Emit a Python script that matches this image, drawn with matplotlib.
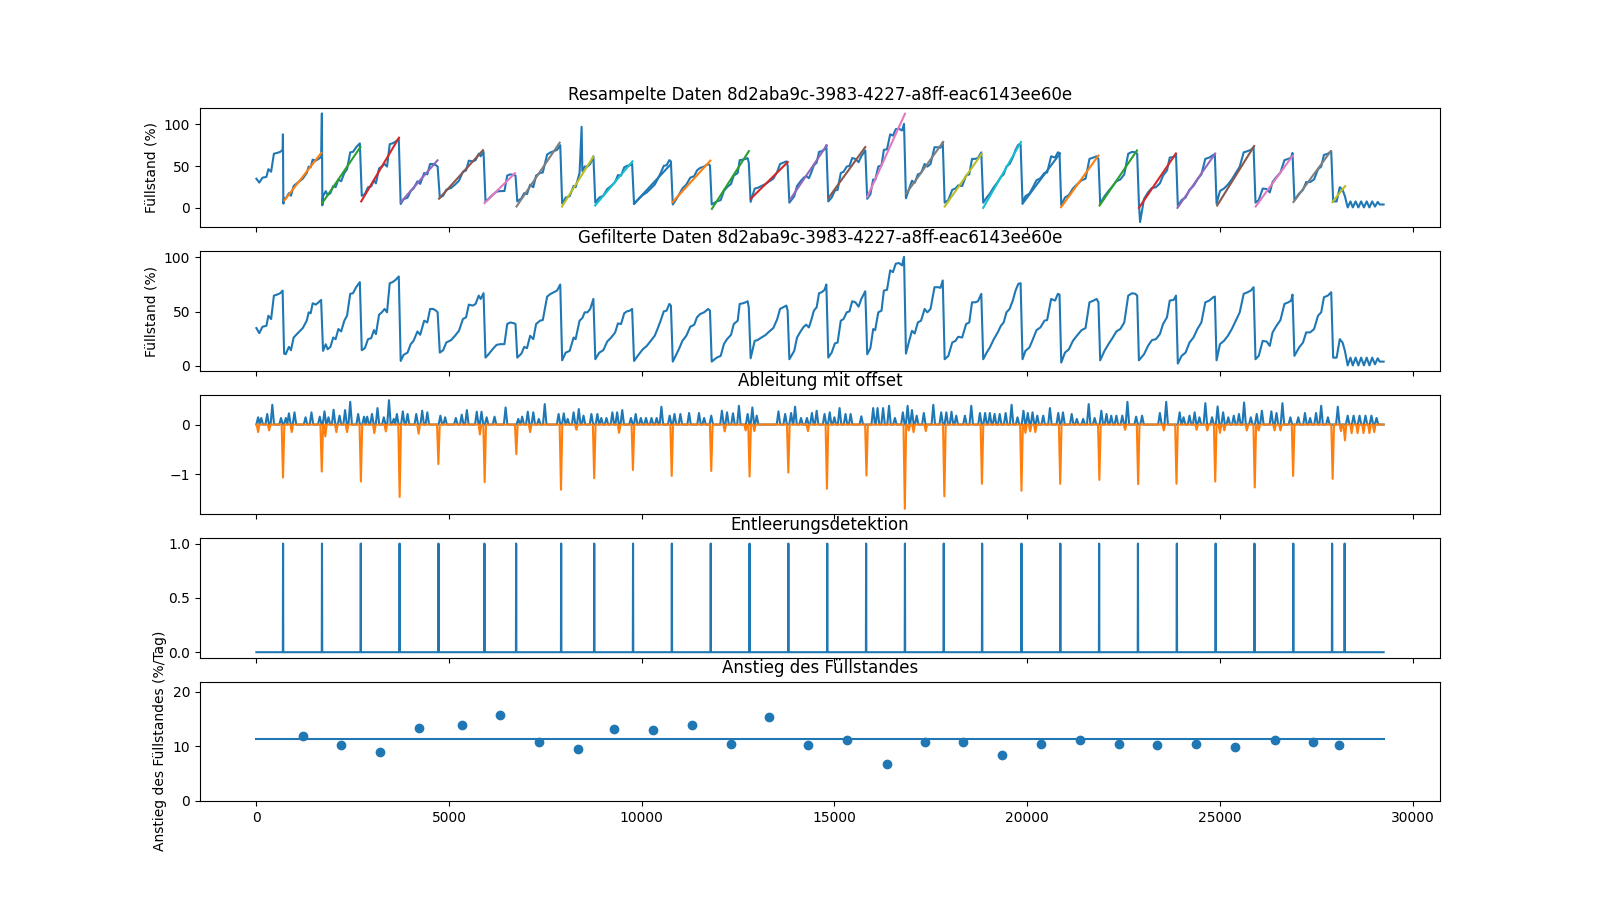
import numpy as np
import matplotlib
matplotlib.use("Agg")
import matplotlib.pyplot as plt

sensor_id = "8d2aba9c-3983-4227-a8ff-eac6143ee60e"
t_end = 29250

# filtered fill level (x in samples, y in %)
filt_t = [0, 76, 158, 260, 312, 383, 455, 537, 619, 681,
          720, 760, 845, 897, 968, 1050, 1204, 1307, 1358, 1409, 1461, 1543, 1614, 1680,
          1730, 1800, 1850, 1922, 1994, 2056, 2128, 2200, 2282, 2353, 2435, 2507, 2589, 2685,
          2735, 2815, 2897, 2979, 3051, 3102, 3184, 3256, 3328, 3390, 3461, 3533, 3615, 3695,
          3745, 3820, 3923, 4005, 4077, 4180, 4251, 4354, 4436, 4508, 4590, 4662, 4703,
          4760, 4846, 4928, 5052, 5154, 5257, 5360, 5441, 5513, 5616, 5688, 5770, 5821, 5895,
          5945, 6026, 6129, 6232, 6334, 6437, 6509, 6591, 6693, 6724,
          6770, 6878, 6950, 7022, 7104, 7186, 7258, 7360, 7432, 7545, 7637, 7719, 7801, 7885,
          7935, 8027, 8130, 8232, 8284, 8386, 8458, 8519, 8591, 8663, 8745,
          8795, 8899, 9002, 9104, 9207, 9310, 9382, 9463, 9545, 9617, 9689, 9750,
          9800, 9926, 10028, 10131, 10233, 10336, 10408, 10490, 10572, 10644, 10715, 10756,
          10805, 10900, 10982, 11054, 11156, 11259, 11362, 11433, 11515, 11618, 11721, 11770,
          11815, 11946, 12049, 12131, 12213, 12316, 12388, 12490, 12541, 12623, 12695, 12747, 12777,
          12825, 12931, 13003, 13105, 13208, 13310, 13413, 13516, 13588, 13670, 13752, 13785,
          13830, 13957, 14029, 14132, 14200, 14265, 14337, 14394, 14466, 14538, 14600, 14671, 14743, 14790,
          14840, 14928, 15010, 15082, 15164, 15236, 15318, 15390, 15461, 15544, 15626, 15697, 15800,
          15850, 15933, 16005, 16056, 16138, 16221, 16282, 16364, 16446, 16518, 16590, 16672, 16754, 16805,
          16855, 16928, 17011, 17082, 17165, 17247, 17339, 17411, 17493, 17596, 17698, 17750, 17810,
          17860, 17955, 18057, 18139, 18211, 18314, 18416, 18498, 18570, 18652, 18724, 18810,
          18860, 18950, 19032, 19135, 19237, 19319, 19391, 19463, 19545, 19627, 19699, 19771, 19830,
          19880, 19955, 20058, 20140, 20243, 20345, 20448, 20519, 20622, 20725, 20797, 20840,
          20885, 20981, 21084, 21186, 21289, 21412, 21515, 21617, 21720, 21802, 21850,
          21895, 22007, 22110, 22212, 22315, 22418, 22520, 22623, 22725, 22807, 22855,
          22900, 23033, 23136, 23238, 23341, 23444, 23526, 23628, 23700, 23803, 23862,
          23910, 24008, 24110, 24213, 24315, 24418, 24521, 24623, 24726, 24829, 24870,
          24915, 25003, 25106, 25209, 25311, 25414, 25516, 25619, 25721, 25804, 25875,
          25925, 26009, 26112, 26214, 26296, 26368, 26470, 26573, 26676, 26778, 26850, 26885,
          26935, 27056, 27158, 27240, 27343, 27445, 27548, 27630, 27701, 27804, 27890,
          27940, 28030, 28112, 28184, 28245, 28317, 28389, 28450, 28522, 28594, 28666, 28738,
          28810, 28881, 28953, 29025, 29097, 29148, 29250]
filt_level = [34.9, 30.2, 36.1, 37.0, 46.3, 43.2, 64.8, 65.7, 67.0, 69.4,
              11.4, 10.8, 17.6, 14.5, 26.2, 29.3, 34.9, 41.7, 49.4, 48.5, 57.7, 56.5, 58.6, 60.8,
              13.9, 20.0, 15.4, 17.6, 26.2, 24.7, 34.0, 31.8, 41.7, 46.3, 66.4, 67.0, 72.5, 77.2,
              14.5, 16.4, 24.7, 25.6, 33.0, 29.3, 47.2, 49.4, 52.5, 49.4, 76.2, 77.2, 79.3, 82.4,
              4.6, 10.2, 12.3, 20.1, 23.1, 31.8, 28.7, 41.7, 40.1, 52.5, 52.5, 50.9, 49.4,
              12.3, 14.5, 21.6, 23.8, 27.8, 32.4, 43.2, 44.8, 56.5, 55.6, 57.1, 64.8, 61.7, 67.0,
              7.7, 10.8, 15.4, 19.4, 20.1, 20.1, 38.6, 40.1, 39.2, 38.6,
              7.7, 11.4, 17.6, 16.4, 27.8, 24.7, 38.6, 41.7, 42.3, 63.9, 66.4, 67.9, 69.4, 75.0,
              5.2, 12.3, 13.9, 26.2, 24.7, 41.7, 44.1, 49.4, 49.4, 52.5, 61.7,
              6.2, 12.3, 14.5, 22.5, 26.2, 30.9, 39.2, 38.6, 48.5, 50.3, 50.9, 52.5,
              4.6, 10.8, 15.4, 18.5, 23.1, 27.8, 34.0, 41.7, 50.3, 50.9, 57.1, 55.6,
              4.0, 10.8, 17.0, 23.1, 27.8, 36.1, 38.0, 44.8, 47.8, 49.4, 52.5, 50.9,
              4.0, 7.7, 9.3, 20.1, 24.7, 28.7, 38.6, 41.7, 57.1, 57.7, 58.6, 59.6, 54.0,
              7.1, 23.1, 23.8, 26.2, 28.4, 31.8, 34.9, 43.2, 52.5, 54.0, 55.6, 50.9,
              6.2, 13.9, 26.2, 32.4, 36.0, 38.0, 35.5, 41.7, 50.9, 54.0, 67.0, 67.9, 70.1, 75.0,
              7.7, 12.3, 20.7, 21.6, 41.7, 43.2, 49.4, 50.3, 59.6, 58.6, 54.6, 61.7, 68.8,
              10.8, 16.4, 34.0, 33.0, 49.4, 50.9, 69.4, 70.1, 88.0, 86.4, 94.1, 94.8, 92.6, 100.5,
              11.4, 21.6, 32.4, 29.9, 40.1, 41.7, 52.5, 49.4, 52.5, 72.5, 72.5, 71.9, 78.7,
              6.2, 9.3, 21.6, 23.1, 26.9, 26.2, 38.6, 40.1, 58.6, 58.6, 59.6, 66.4,
              6.2, 12.3, 17.0, 24.7, 30.9, 37.0, 40.1, 49.4, 52.5, 60.2, 69.4, 75.6, 76.2,
              6.2, 13.9, 17.0, 23.8, 33.0, 35.5, 41.7, 42.3, 61.7, 60.2, 66.4, 65.7,
              3.1, 12.3, 15.4, 23.1, 27.8, 33.0, 34.9, 58.6, 60.2, 61.7, 58.6,
              5.2, 13.9, 20.1, 25.6, 31.8, 34.0, 40.1, 64.8, 67.0, 66.4, 64.8,
              5.2, 10.8, 18.5, 23.8, 24.7, 29.3, 38.6, 44.8, 60.2, 60.8, 64.8,
              2.2, 9.3, 12.3, 21.6, 26.2, 34.0, 40.1, 58.6, 60.2, 63.3, 63.9,
              5.2, 20.1, 23.1, 27.8, 34.0, 41.7, 49.4, 66.4, 67.9, 69.4, 72.5,
              6.2, 9.3, 23.1, 22.5, 18.5, 30.9, 37.0, 42.3, 57.1, 58.6, 60.2, 65.7,
              9.3, 17.0, 21.6, 30.9, 30.9, 34.0, 46.3, 49.4, 63.3, 64.8, 67.9,
              7.7, 7.7, 24.7, 21.6, 13.9, 0.5, 7.7, 0.5, 7.7, 0.5, 7.7, 0.5,
              7.7, 0.5, 7.7, 1.5, 7.1, 4.0, 4.0]

# extra outliers present only in the resampled raw data
raw_extra_t = [690, 700, 1700, 1712, 8440, 22930]
raw_extra_level = [88.0, 5.0, 113.0, 3.0, 97.0, -17.0]

# linear fits per filling cycle
fit_t0 = [725, 1710, 2720, 3750, 4740, 5920, 6750, 7930, 8790, 9800, 10800, 11820, 12830, 13850,
          14850, 15850, 16860, 17860, 18860, 19880, 20880, 21880, 22900, 23900, 24930, 25930, 26910, 27920]
fit_t1 = [1686, 2700, 3700, 4700, 5880, 6710, 7870, 8740, 9760, 10750, 11780, 12780, 13790, 14800,
          15800, 16830, 17820, 18820, 19840, 20850, 21850, 22850, 23860, 24880, 25890, 26880, 27880, 28250]
fit_y0 = [8.9, 5.7, 7.7, 6.9, 11.0, 5.7, 1.6, 1.6, 2.8, 5.0, 6.9, -1.2, 11.0, 10.0,
          12.2, 13.0, 17.0, 1.6, 0.0, 5.0, 0.8, 2.8, 0.0, 0.0, 2.8, 1.6, 6.9, 6.9]
fit_y1 = [65.9, 72.8, 84.0, 56.9, 69.0, 41.5, 78.0, 61.0, 55.7, 52.0, 56.5, 67.9, 54.9, 74.8,
          72.8, 112.6, 78.9, 64.6, 78.9, 65.0, 62.6, 68.7, 65.0, 65.0, 74.0, 61.8, 67.9, 26.0]

# derivative: positive bumps
deriv_pos_t = [45, 127, 281, 414, 640, 763, 845, 989, 1276, 1430, 1645, 1768, 1871, 2004, 2158, 2302,
               2435, 2641, 2794, 2876, 3000, 3143, 3307, 3441, 3564, 3646, 3800, 3923, 4149, 4303,
               4436, 4775, 4898, 5175, 5329, 5462, 5719, 5842, 5975, 6180, 6467, 6796, 6898, 7042,
               7186, 7329, 7483, 7842, 7976, 8078, 8232, 8366, 8489, 8694, 8848, 8950, 9084, 9238,
               9361, 9494, 9720, 9843, 9976, 10110, 10253, 10387, 10510, 10725, 10849, 11002, 11228,
               11485, 11618, 11803, 12080, 12213, 12367, 12521, 12747, 12870, 12983, 13547, 13721,
               13875, 13978, 14132, 14286, 14415, 14538, 14743, 14877, 14999, 15133, 15287, 15420,
               15697, 16005, 16118, 16262, 16416, 16569, 16775, 16898, 17011, 17134, 17319, 17565,
               17770, 17903, 18037, 18160, 18385, 18550, 18775, 18909, 19032, 19155, 19288, 19442,
               19596, 19750, 19904, 20017, 20140, 20263, 20417, 20591, 20807, 20930, 21156, 21289,
               21453, 21597, 21751, 21925, 22059, 22182, 22315, 22469, 22602, 22828, 22982, 23444,
               23608, 23957, 24059, 24213, 24346, 24470, 24624, 24798, 24942, 25085, 25219, 25362,
               25496, 25629, 25803, 25957, 26091, 26337, 26470, 26624, 26830, 27035, 27209, 27342,
               27496, 27629, 27804, 28061, 28317, 28471, 28625, 28779, 28933, 29066]
deriv_pos_h = [0.146, 0.132, 0.212, 0.397, 0.132, 0.132, 0.225, 0.245, 0.146, 0.245, 0.159, 0.265,
               0.146, 0.298, 0.179, 0.291, 0.457, 0.212, 0.159, 0.159, 0.212, 0.331, 0.146, 0.490,
               0.113, 0.212, 0.265, 0.212, 0.212, 0.278, 0.245, 0.179, 0.146, 0.132, 0.199, 0.291,
               0.258, 0.258, 0.146, 0.159, 0.344, 0.113, 0.159, 0.258, 0.245, 0.113, 0.411, 0.212,
               0.225, 0.113, 0.245, 0.311, 0.179, 0.212, 0.212, 0.132, 0.132, 0.245, 0.245, 0.291,
               0.132, 0.212, 0.132, 0.132, 0.132, 0.132, 0.358, 0.179, 0.212, 0.212, 0.232, 0.232,
               0.132, 0.179, 0.278, 0.245, 0.225, 0.377, 0.212, 0.344, 0.179, 0.265, 0.212, 0.232,
               0.358, 0.132, 0.132, 0.232, 0.278, 0.212, 0.245, 0.146, 0.331, 0.212, 0.212, 0.166,
               0.331, 0.331, 0.331, 0.377, 0.132, 0.245, 0.377, 0.291, 0.179, 0.232, 0.397, 0.245,
               0.245, 0.258, 0.179, 0.179, 0.377, 0.232, 0.232, 0.232, 0.212, 0.212, 0.232, 0.397,
               0.146, 0.278, 0.232, 0.245, 0.179, 0.179, 0.331, 0.232, 0.245, 0.212, 0.113, 0.113,
               0.411, 0.132, 0.278, 0.212, 0.179, 0.179, 0.179, 0.457, 0.159, 0.179, 0.232, 0.457,
               0.245, 0.146, 0.179, 0.245, 0.146, 0.430, 0.146, 0.364, 0.245, 0.146, 0.179, 0.212,
               0.444, 0.146, 0.212, 0.278, 0.265, 0.232, 0.430, 0.146, 0.146, 0.232, 0.132, 0.232,
               0.377, 0.146, 0.358, 0.179, 0.179, 0.179, 0.179, 0.179, 0.132]

# derivative: negative dips
deriv_neg_t = [45, 332, 691, 917, 1697, 1789, 2076, 2353, 2712, 3061, 3359, 3718, 4210, 4723, 5801,
               5924, 6745, 7104, 7904, 8304, 8766, 9412, 9771, 10777, 11803, 12152, 12695, 12798,
               12921, 13803, 14312, 14805, 15831, 16826, 16929, 17052, 17370, 17852, 18827, 19853,
               19955, 20078, 20212, 20858, 21874, 22541, 22880, 23546, 23875, 24398, 24675, 24880,
               25003, 25116, 25701, 25906, 26009, 26419, 26573, 26901, 27927, 28143, 28245, 28419,
               28574, 28728, 28882, 29005]
deriv_neg_d = [0.152, 0.119, 1.066, 0.152, 0.947, 0.238, 0.152, 0.152, 1.146, 0.172, 0.139, 1.457,
               0.185, 0.795, 0.199, 1.159, 0.596, 0.152, 1.311, 0.106, 1.079, 0.166, 0.914, 1.033,
               0.934, 0.139, 0.119, 1.046, 0.132, 0.967, 0.132, 1.291, 1.026, 1.695, 0.119, 0.152,
               0.132, 1.444, 1.192, 1.331, 0.166, 0.139, 0.152, 1.192, 1.113, 0.106, 1.199, 0.119,
               1.192, 0.106, 0.119, 1.146, 0.166, 0.119, 0.119, 1.265, 0.119, 0.119, 0.119, 1.033,
               1.093, 0.132, 0.318, 0.172, 0.172, 0.172, 0.172, 0.152]

# detected emptying events
events_t = [693, 1703, 2709, 3716, 4725, 5918, 6741, 7909, 8767, 9774, 10781, 11790, 12797, 13804,
            14813, 15822, 16829, 17836, 18832, 19852, 20861, 21868, 22875, 23884, 24891, 25898,
            26906, 27913, 28238]

# slope per cycle (%/day)
slope_t = [1214, 2200, 3207, 4227, 5327, 6323, 7343, 8350, 9289, 10296, 11303, 12312, 13308, 14315,
           15335, 16355, 17362, 18348, 19354, 20363, 21380, 22390, 23373, 24382, 25399, 26419,
           27429, 28101]
slope_val = [11.89, 10.34, 9.04, 13.31, 13.87, 15.73, 10.90, 9.60, 13.13, 12.94, 13.87, 10.53,
             15.36, 10.34, 11.15, 6.81, 10.90, 10.77, 8.48, 10.53, 11.27, 10.53, 10.34, 10.53,
             9.97, 11.27, 10.77, 10.34]
slope_mean = 11.35


def spike_line(centers, heights, half_w, sign):
    order = np.argsort(centers)
    xs, ys = [0.0], [0.0]
    for i in order:
        c = centers[i]
        xs += [c - half_w, c, c + half_w]
        ys += [0.0, sign * heights[i], 0.0]
    xs.append(t_end)
    ys.append(0.0)
    return np.array(xs), np.array(ys)


fig, axes = plt.subplots(5, 1, figsize=(16, 9), dpi=100, sharex=True)

# 1 raw data with fits
raw_t = np.array(filt_t + raw_extra_t, dtype=float)
raw_y = np.array(filt_level + raw_extra_level, dtype=float)
o = np.argsort(raw_t, kind="stable")
ax = axes[0]
ax.plot(raw_t[o], raw_y[o], color="C0", lw=1.5)
for i in range(len(fit_t0)):
    ax.plot([fit_t0[i], fit_t1[i]], [fit_y0[i], fit_y1[i]], color=f"C{(i + 1) % 10}", lw=1.5)
ax.set_title(f"Resampelte Daten {sensor_id}")
ax.set_ylabel("Füllstand (%)")
ax.set_yticks([0, 50, 100])

# 2 filtered
ax = axes[1]
ax.plot(filt_t, filt_level, color="C0", lw=1.5)
ax.set_title(f"Gefilterte Daten {sensor_id}")
ax.set_ylabel("Füllstand (%)")
ax.set_yticks([0, 50, 100])

# 3 derivative
ax = axes[2]
px, py = spike_line(deriv_pos_t, deriv_pos_h, 45, 1)
nx, ny = spike_line(deriv_neg_t, deriv_neg_d, 35, -1)
ax.plot(px, py, color="C0", lw=1.5)
ax.plot(nx, ny, color="C1", lw=1.5)
ax.set_title("Ableitung mit offset")
ax.set_yticks([-1, 0])

# 4 detection
ax = axes[3]
ex, ey = spike_line(events_t, [1.0] * len(events_t), 6, 1)
ax.plot(ex, ey, color="C0", lw=1.5)
ax.set_title("Entleerungsdetektion")
ax.set_yticks([0.0, 0.5, 1.0])

# 5 slope
ax = axes[4]
ax.plot([0, t_end], [slope_mean, slope_mean], color="C0", lw=1.5)
ax.scatter(slope_t, slope_val, color="C0", s=36, zorder=3)
ax.set_title("Anstieg des Füllstandes")
ax.set_ylabel("Anstieg des Füllstandes (%/Tag)")
ax.set_ylim(0, 21.9)
ax.set_yticks([0, 10, 20])
ax.set_xticks([0, 5000, 10000, 15000, 20000, 25000, 30000])

fig.savefig("out.png", dpi=100)
